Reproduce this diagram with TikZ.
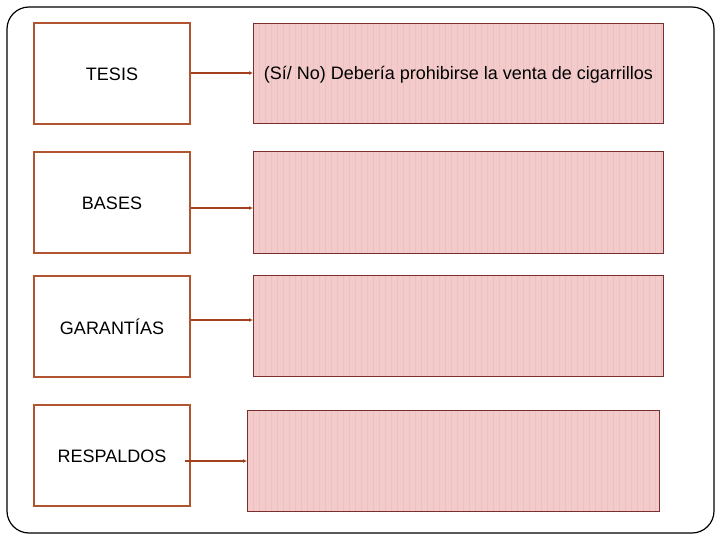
\documentclass[tikz,border=0pt]{standalone}
\usepackage{fontspec}
\setmainfont{Liberation Sans}
\usetikzlibrary{arrows.meta}
\definecolor{lborder}{HTML}{B0552F}
\definecolor{arrowc}{HTML}{A3411E}
\definecolor{rfill}{HTML}{F3CBCB}
\definecolor{rstripe}{HTML}{E8B8B8}
\definecolor{rborder}{HTML}{7A2E2E}
\tikzset{
  lbox/.style={draw=lborder, line width=1.8pt, fill=white},
  rbox/.style={draw=rborder, line width=0.9pt, fill=rfill, inner sep=0pt, anchor=north west},
  conn/.style={draw=arrowc, line width=1.5pt, -{Latex[length=4pt,width=4pt]}},
  lbl/.style={font=\fontsize{18}{21}\selectfont},
}
\begin{document}
\begin{tikzpicture}[x=1pt,y=-1pt]
\useasboundingbox (0,0) rectangle (720,540);
\draw[black, line width=1.2pt, rounded corners=22pt] (7,7) rectangle (714,533);
% left boxes
\draw[lbox] (34,23) rectangle (190,124);
\draw[lbox] (34,152) rectangle (190,253);
\draw[lbox] (34,276) rectangle (190,377);
\draw[lbox] (34,405) rectangle (190,506);
\node[lbl] (t1) at (112,74) {TESIS};
\node[lbl] (t2) at (112,203) {BASES};
\node[lbl] (t3) at (112,327) {GARANTÍAS};
\node[lbl] (t4) at (112,456) {RESPALDOS};
% right boxes
\node[rbox, minimum width=410pt, minimum height=100pt] (r1) at (253,23) {};
\node[rbox, minimum width=410pt, minimum height=102pt] (r2) at (253,151) {};
\node[rbox, minimum width=410pt, minimum height=101pt] (r3) at (253,275) {};
\node[rbox, minimum width=412pt, minimum height=101pt] (r4) at (247,410) {};
% stripes
\foreach \n in {r1,r2,r3,r4}{
  \begin{scope}
    \clip (\n.south west) rectangle (\n.north east);
    \foreach \i in {0,6,...,420}{
      \draw[rstripe, line width=1pt, opacity=0.5] ([xshift=\i pt]\n.south west) -- ([xshift=\i pt]\n.north west);
    }
  \end{scope}
  \draw[draw=rborder, line width=0.9pt] (\n.south west) rectangle (\n.north east);
}
\node[lbl] (q1) at ([yshift=-1.5pt]r1.center) {(Sí/ No) Debería prohibirse la venta de cigarrillos};
% connectors
\coordinate (s1) at (191,73);
\coordinate (s2) at (191,208);
\coordinate (s3) at (191,320);
\coordinate (s4) at (185,461);
\draw[conn] (s1) -- (r1.west |- s1);
\draw[conn] (s2) -- (r2.west |- s2);
\draw[conn] (s3) -- (r3.west |- s3);
\draw[conn] (s4) -- (r4.west |- s4);
\end{tikzpicture}
\end{document}
